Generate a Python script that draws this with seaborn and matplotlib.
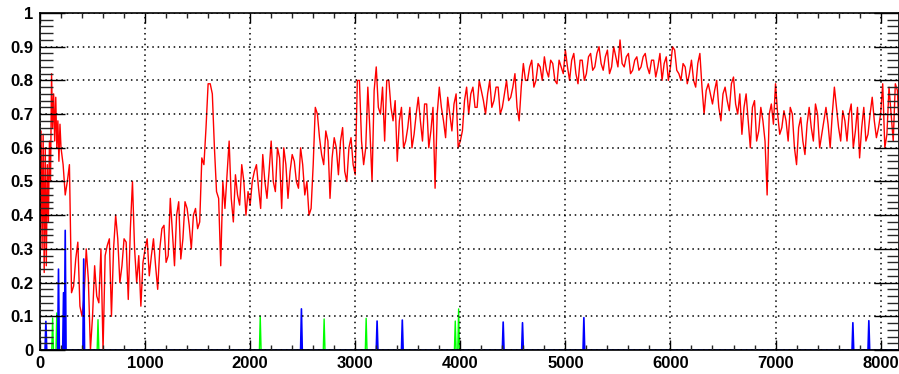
import numpy as np
import pandas as pd
import matplotlib
matplotlib.use("Agg")
import matplotlib.pyplot as plt
from matplotlib.ticker import MultipleLocator, FuncFormatter
import seaborn as sns

# red trace: fine steps at the very start, then every 40 channels,
# plus the in-between readings (offset by 20)
red_head_x = np.arange(0, 200, 10)
red_head = [0.27, 0.65, 0.30, 0.64, 0.23, 0.60, 0.25, 0.55, 0.38, 0.62,
            0.50, 0.82, 0.66, 0.76, 0.62, 0.75, 0.60, 0.68, 0.56, 0.67]
red_body_x = np.arange(200, 8192, 40)
red_body = [
    # 200 - 960
    0.60, 0.46, 0.55, 0.19, 0.32, 0.10, 0.30, 0.00, 0.25, 0.14,
    0.00, 0.31, 0.10, 0.40, 0.20, 0.33, 0.15, 0.50, 0.20, 0.13,
    # 1000 - 1960
    0.30, 0.22, 0.33, 0.18, 0.36, 0.26, 0.45, 0.25, 0.44, 0.33,
    0.42, 0.30, 0.42, 0.38, 0.55, 0.79, 0.76, 0.47, 0.25, 0.42,
    0.62, 0.38, 0.46, 0.55, 0.40,
    # 2000 - 2960
    0.43, 0.53, 0.48, 0.58, 0.45, 0.62, 0.47, 0.57, 0.60, 0.45,
    0.58, 0.50, 0.60, 0.46, 0.40, 0.55, 0.70, 0.58, 0.65, 0.45,
    0.63, 0.52, 0.66, 0.50, 0.63,
    # 3000 - 3960
    0.52, 0.80, 0.55, 0.78, 0.50, 0.84, 0.70, 0.62, 0.80, 0.68,
    0.56, 0.72, 0.62, 0.72, 0.64, 0.75, 0.62, 0.73, 0.65, 0.48,
    0.78, 0.68, 0.75, 0.65, 0.76,
    # 4000 - 4960
    0.62, 0.74, 0.70, 0.78, 0.72, 0.77, 0.70, 0.80, 0.74, 0.78,
    0.72, 0.80, 0.75, 0.82, 0.68, 0.85, 0.80, 0.86, 0.80, 0.84,
    0.87, 0.81, 0.85, 0.79, 0.84,
    # 5000 - 5960
    0.89, 0.80, 0.88, 0.79, 0.86, 0.82, 0.88, 0.84, 0.90, 0.83,
    0.89, 0.84, 0.87, 0.92, 0.84, 0.88, 0.83, 0.87, 0.84, 0.88,
    0.82, 0.86, 0.84, 0.80, 0.87,
    # 6000 - 6960
    0.84, 0.89, 0.82, 0.85, 0.79, 0.86, 0.78, 0.88, 0.70, 0.79,
    0.73, 0.80, 0.68, 0.78, 0.71, 0.81, 0.70, 0.64, 0.76, 0.60,
    0.74, 0.65, 0.68, 0.46, 0.73,
    # 7000 - 7960
    0.79, 0.64, 0.71, 0.62, 0.70, 0.55, 0.69, 0.58, 0.72, 0.62,
    0.70, 0.64, 0.72, 0.60, 0.78, 0.66, 0.71, 0.62, 0.73, 0.65,
    0.57, 0.72, 0.64, 0.75, 0.63,
    # 8000 - 8160
    0.70, 0.60, 0.78, 0.62, 0.77,
]
red_mid_x = np.arange(220, 8192, 40)
red_mid = [
    # 220 - 980
    0.55, 0.50, 0.17, 0.27, 0.13, 0.16, 0.21, 0.10, 0.16, 0.30,
    0.28, 0.33, 0.30, 0.33, 0.25, 0.32, 0.36, 0.30, 0.28, 0.26,
    # 1020 - 1980
    0.33, 0.28, 0.25, 0.30, 0.37, 0.28, 0.35, 0.40, 0.27, 0.44,
    0.37, 0.40, 0.36, 0.57, 0.66, 0.79, 0.60, 0.45, 0.50, 0.52,
    0.45, 0.52, 0.43, 0.50, 0.47,
    # 2020 - 2980
    0.50, 0.55, 0.42, 0.50, 0.53, 0.50, 0.60, 0.42, 0.55, 0.53,
    0.56, 0.48, 0.55, 0.50, 0.42, 0.72, 0.63, 0.55, 0.62, 0.57,
    0.60, 0.62, 0.53, 0.60, 0.55,
    # 3020 - 3980
    0.80, 0.62, 0.60, 0.65, 0.77, 0.72, 0.78, 0.80, 0.72, 0.74,
    0.68, 0.60, 0.66, 0.60, 0.70, 0.68, 0.73, 0.60, 0.72, 0.70,
    0.72, 0.63, 0.70, 0.73, 0.60,
    # 4020 - 4980
    0.65, 0.78, 0.76, 0.72, 0.80, 0.74, 0.76, 0.72, 0.78, 0.70,
    0.76, 0.74, 0.78, 0.72, 0.78, 0.80, 0.84, 0.78, 0.85, 0.80,
    0.83, 0.86, 0.80, 0.86, 0.82,
    # 5020 - 5980
    0.84, 0.86, 0.82, 0.86, 0.80, 0.87, 0.83, 0.88, 0.85, 0.87,
    0.82, 0.90, 0.84, 0.85, 0.87, 0.82, 0.86, 0.83, 0.87, 0.84,
    0.86, 0.81, 0.88, 0.85, 0.80,
    # 6020 - 6980
    0.90, 0.83, 0.80, 0.84, 0.82, 0.80, 0.85, 0.78, 0.77, 0.76,
    0.77, 0.72, 0.76, 0.74, 0.79, 0.73, 0.76, 0.72, 0.68, 0.72,
    0.62, 0.72, 0.62, 0.70, 0.67,
    # 7020 - 7980
    0.70, 0.66, 0.68, 0.72, 0.60, 0.66, 0.62, 0.67, 0.66, 0.73,
    0.60, 0.68, 0.67, 0.70, 0.72, 0.62, 0.68, 0.70, 0.60, 0.72,
    0.66, 0.62, 0.70, 0.68, 0.66,
    # 8020 - 8180
    0.79, 0.64, 0.70, 0.79, 0.62,
]

# spikes: channel and height
blue_pos = [55, 180, 225, 240, 412, 2490, 3210, 3451, 4408, 4592, 5176, 7738, 7891]
blue_h = [0.085, 0.24, 0.17, 0.355, 0.27, 0.122, 0.086, 0.089, 0.083, 0.081, 0.096, 0.081, 0.087]
green_pos = [117, 159, 549, 2093, 2705, 3105, 3955, 3987]
green_h = [0.095, 0.11, 0.09, 0.10, 0.092, 0.094, 0.086, 0.122]

x_max = 8175


def spike_frame(pos, h, step=8):
    ch = np.arange(0, 8192, step)
    val = np.zeros(len(ch))
    for p, v in zip(pos, h):
        val[int(round(p / step))] = v
    return pd.DataFrame({"ch": ch, "val": val})


red_df = pd.DataFrame({"ch": np.concatenate([red_head_x, red_body_x, red_mid_x]),
                       "val": red_head + red_body + red_mid})
red_df = red_df.sort_values("ch")
blue_df = spike_frame(blue_pos, blue_h)
green_df = spike_frame(green_pos, green_h)

sns.set_theme(style="white")
plt.rcParams['font.family'] = ['Liberation Sans', 'DejaVu Sans']

fig = plt.figure(figsize=(8.99, 3.74), dpi=100)
ax = fig.add_axes([40 / 899, 1 - 350 / 374, 1 - 40 / 899, 337 / 374])

sns.lineplot(data=red_df, x="ch", y="val", ax=ax, color="#ff0000", lw=1.0,
             estimator=None, sort=False)
sns.lineplot(data=green_df, x="ch", y="val", ax=ax, color="#00ff00", lw=1.0,
             estimator=None, sort=False)
sns.lineplot(data=blue_df, x="ch", y="val", ax=ax, color="#0000ff", lw=1.2,
             estimator=None, sort=False)

ax.set_xlim(0, x_max)
ax.set_ylim(0, 1)
ax.set_xlabel("")
ax.set_ylabel("")

ax.xaxis.set_major_locator(MultipleLocator(1000))
ax.xaxis.set_minor_locator(MultipleLocator(200))
ax.yaxis.set_major_locator(MultipleLocator(0.1))
ax.yaxis.set_minor_locator(MultipleLocator(0.02))
ax.yaxis.set_major_formatter(FuncFormatter(lambda v, p: f"{v:g}"))
ax.xaxis.set_major_formatter(FuncFormatter(lambda v, p: f"{v:g}"))

ax.tick_params(axis="x", which="major", direction="in", length=7, width=1,
               top=True, bottom=True, pad=4, labelsize=12, colors="black")
ax.tick_params(axis="x", which="minor", direction="in", length=3.5, width=1,
               top=True, bottom=True)
ax.tick_params(axis="y", which="major", direction="in", length=18, width=1,
               left=True, right=True, pad=5, labelsize=12, colors="black")
ax.tick_params(axis="y", which="minor", direction="in", length=9, width=1,
               left=True, right=True)
for lab in ax.get_xticklabels() + ax.get_yticklabels():
    lab.set_fontweight("bold")

ax.grid(True, which="major", color="black", linestyle=(0, (1, 2.5)), lw=1.1)
ax.set_axisbelow(False)
for s in ax.spines.values():
    s.set_color("black")
    s.set_linewidth(1.2)

fig.savefig("out.png", dpi=100)
